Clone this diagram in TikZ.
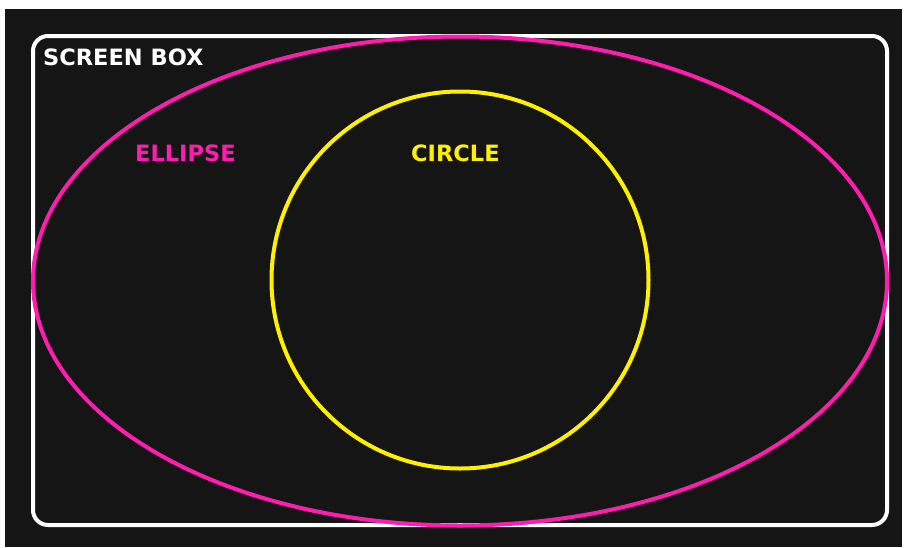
\documentclass[tikz,border=0pt]{standalone}
\usepackage{fontspec}
\setmainfont{DejaVu Sans}
\usetikzlibrary{shapes.geometric}
\definecolor{bg}{HTML}{151515}
\definecolor{mag}{HTML}{FF1DB0}
\definecolor{yel}{HTML}{FFF000}
\begin{document}
\begin{tikzpicture}[x=1pt,y=-1pt,
  lbl/.style={font=\bfseries\fontsize{22.5}{22.5}\selectfont, inner sep=0pt, anchor=west}]
\useasboundingbox (0,0) rectangle (905,547);
\fill[white] (0,0) rectangle (905,547);
\fill[bg] (5,9) rectangle (902,547);
\draw[white, line width=4pt, rounded corners=15pt] (33,36) rectangle (887,525);
\node[draw=mag, line width=4pt, ellipse, minimum width=854pt, minimum height=489pt, inner sep=0pt] (ell) at (460,281) {};
\node[draw=yel, line width=4pt, circle, minimum size=377pt, inner sep=0pt] (cir) at (460,280) {};
\node[lbl, text=white] (sb) at (43,57) {SCREEN BOX};
\node[lbl, text=mag] (el) at (135,153) {ELLIPSE};
\node[lbl, text=yel] (ci) at (411,153) {CIRCLE};
\end{tikzpicture}
\end{document}
